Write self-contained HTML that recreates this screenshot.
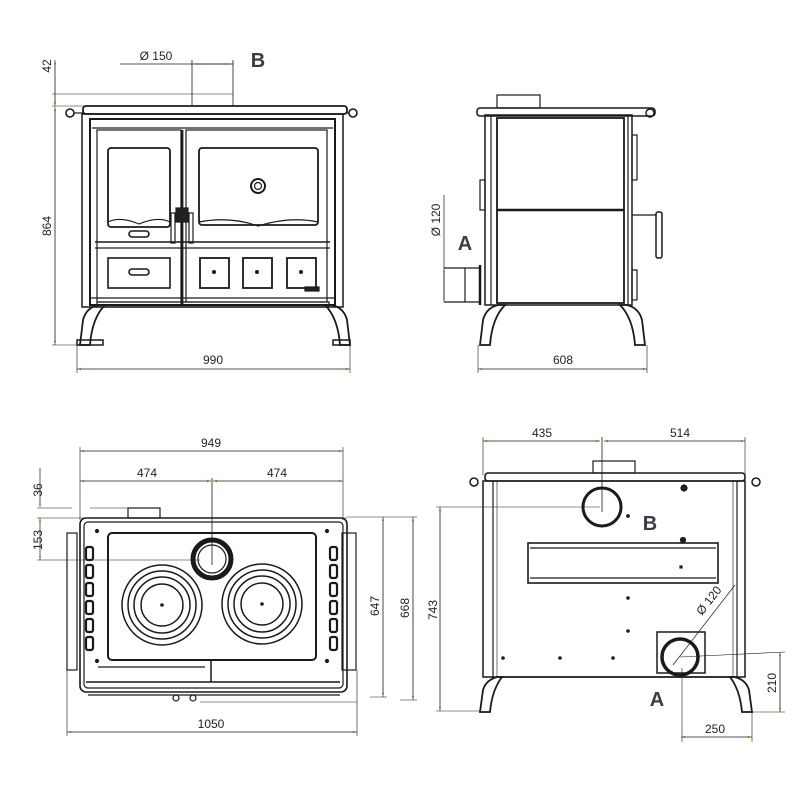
<!DOCTYPE html>
<html><head><meta charset="utf-8"><style>html,body{margin:0;padding:0;background:#fff}svg{display:block}</style></head><body>
<svg width="800" height="800" viewBox="0 0 800 800" xmlns="http://www.w3.org/2000/svg" font-family="Liberation Sans, Arial, sans-serif">
<defs>
<marker id="ar" viewBox="0 0 10 10" refX="10" refY="5" markerWidth="5" markerHeight="5" orient="auto-start-reverse"><path d="M0,2 L10,5 L0,8 z" fill="#8a7a3a"/></marker>
</defs>
<g fill="none" stroke="#1a1a1a" stroke-width="1.2">
<!-- ============ FRONT VIEW ============ -->
<line x1="55" y1="60" x2="55" y2="106" stroke-width="0.8" marker-start="url(#ar)" marker-end="url(#ar)"/>
<line x1="55" y1="107" x2="55" y2="345" stroke-width="0.8" marker-start="url(#ar)" marker-end="url(#ar)"/>
<line x1="52" y1="106" x2="90" y2="106" stroke-width="0.6"/>
<line x1="52" y1="94" x2="233" y2="94" stroke-width="0.6"/>
<line x1="52" y1="345" x2="78" y2="345" stroke-width="0.6"/>
<line x1="120" y1="64" x2="233" y2="64" stroke-width="0.7"/>
<line x1="192" y1="64" x2="233" y2="64" stroke-width="0.7" marker-start="url(#ar)" marker-end="url(#ar)"/>
<line x1="192" y1="60" x2="192" y2="106" stroke-width="0.8"/>
<line x1="233" y1="60" x2="233" y2="106" stroke-width="0.8"/>
<line x1="77" y1="369" x2="350" y2="369" stroke-width="0.8" marker-start="url(#ar)" marker-end="url(#ar)"/>
<line x1="77" y1="345" x2="77" y2="373" stroke-width="0.6"/>
<line x1="350" y1="345" x2="350" y2="373" stroke-width="0.6"/>
<rect x="83" y="106" width="264" height="8" rx="3" stroke-width="1.8"/>
<circle cx="70" cy="113" r="4" stroke-width="1.6"/><line x1="74" y1="113" x2="83" y2="113"/>
<circle cx="353" cy="113" r="4" stroke-width="1.6"/><line x1="347" y1="113" x2="349" y2="113"/>
<rect x="82" y="114" width="261" height="193" stroke-width="1.5"/>
<rect x="90" y="119" width="245" height="186" stroke-width="2"/>
<line x1="92" y1="128" x2="333" y2="128"/>
<rect x="97" y="130" width="84" height="172" stroke-width="1.2"/>
<rect x="186" y="130" width="141" height="172" stroke-width="1.2"/>
<line x1="182" y1="130" x2="182" y2="305" stroke-width="2.8"/>
<rect x="108" y="148" width="62" height="79" rx="3" stroke-width="1.8"/>
<rect x="199" y="148" width="119" height="77" rx="3" stroke-width="1.8"/>
<path d="M108,222 Q120,216 139,224 Q158,216 170,222" stroke-width="1.2"/>
<path d="M199,222 Q230,216 258,226 Q290,216 318,222" stroke-width="1.2"/>
<circle cx="258" cy="186" r="7" stroke-width="2"/><circle cx="258" cy="186" r="3.5"/>
<rect x="176" y="208" width="12" height="14" fill="#222"/>
<rect x="171" y="213" width="4" height="30"/><rect x="189" y="213" width="4" height="30"/>
<rect x="129" y="231" width="20" height="6" rx="3" stroke-width="1.6"/>
<line x1="95" y1="242" x2="330" y2="242" stroke-width="1.5"/>
<line x1="95" y1="248" x2="330" y2="248"/>
<rect x="108" y="258" width="62" height="30" stroke-width="1.6"/>
<rect x="129" y="269" width="20" height="6" rx="3" stroke-width="1.6"/>
<rect x="200" y="258" width="29" height="30" stroke-width="1.8"/><circle cx="214" cy="272" r="1.4" fill="#222"/>
<rect x="243" y="258" width="29" height="30" stroke-width="1.8"/><circle cx="257" cy="272" r="1.4" fill="#222"/>
<rect x="287" y="258" width="29" height="30" stroke-width="1.8"/><circle cx="301" cy="272" r="1.4" fill="#222"/>
<rect x="305" y="287" width="14" height="4" fill="#222"/>
<line x1="90" y1="298" x2="335" y2="298"/>
<rect x="97" y="302" width="232" height="5"/>
<path d="M80,345 L83,320 Q86,308 98,305 L105,305 Q92,318 90,345 Z" stroke-width="1.8"/>
<path d="M350,345 L347,320 Q344,308 332,305 L325,305 Q338,318 340,345 Z" stroke-width="1.8"/>
<rect x="77" y="340" width="26" height="5" stroke-width="1.5"/><rect x="333" y="340" width="17" height="5" stroke-width="1.5"/>
<!-- ============ SIDE VIEW ============ -->
<rect x="497" y="95" width="43" height="13"/>
<rect x="477" y="108" width="178" height="8" rx="3" stroke-width="1.6"/>
<circle cx="650" cy="113" r="4" stroke-width="1.5"/>
<rect x="485" y="115" width="147" height="190" stroke-width="1.5"/>
<rect x="497" y="118" width="127" height="185" stroke-width="1.8"/>
<line x1="497" y1="210" x2="624" y2="210" stroke-width="2.4"/>
<line x1="491" y1="116" x2="491" y2="305"/>
<line x1="628" y1="116" x2="628" y2="305"/>
<rect x="480" y="180" width="5" height="30"/>
<rect x="632" y="135" width="5" height="45"/>
<rect x="656" y="212" width="6" height="46" rx="2" stroke-width="1.5"/>
<line x1="632" y1="215" x2="656" y2="215"/>
<rect x="632" y="270" width="5" height="30"/>
<line x1="444" y1="268" x2="480" y2="268"/>
<line x1="444" y1="302" x2="480" y2="302"/>
<line x1="465" y1="268" x2="465" y2="302"/>
<line x1="480" y1="265" x2="480" y2="305" stroke-width="2.5"/>
<line x1="444" y1="195" x2="444" y2="302" stroke-width="0.7"/>
<line x1="444" y1="268" x2="444" y2="302" stroke-width="0.7" marker-start="url(#ar)" marker-end="url(#ar)"/>
<path d="M480,345 L483,320 Q486,308 498,305 L505,305 Q492,318 490,345 Z" stroke-width="1.8"/>
<path d="M645,345 L642,320 Q639,308 627,305 L620,305 Q633,318 635,345 Z" stroke-width="1.8"/>
<line x1="478" y1="369" x2="647" y2="369" stroke-width="0.8" marker-start="url(#ar)" marker-end="url(#ar)"/>
<line x1="478" y1="345" x2="478" y2="373" stroke-width="0.6"/>
<line x1="647" y1="345" x2="647" y2="373" stroke-width="0.6"/>
<!-- ============ TOP VIEW ============ -->
<line x1="80" y1="451" x2="343" y2="451" stroke-width="0.8" marker-start="url(#ar)" marker-end="url(#ar)"/>
<line x1="80" y1="481" x2="211" y2="481" stroke-width="0.8" marker-start="url(#ar)" marker-end="url(#ar)"/>
<line x1="213" y1="481" x2="343" y2="481" stroke-width="0.8" marker-start="url(#ar)" marker-end="url(#ar)"/>
<line x1="80" y1="447" x2="80" y2="520" stroke-width="0.6"/>
<line x1="343" y1="447" x2="343" y2="520" stroke-width="0.6"/>
<line x1="212" y1="478" x2="212" y2="565" stroke-width="0.8"/>
<line x1="40" y1="468" x2="40" y2="507" stroke-width="0.7" marker-end="url(#ar)"/>
<line x1="40" y1="518" x2="40" y2="560" stroke-width="0.7" marker-start="url(#ar)" marker-end="url(#ar)"/>
<line x1="37" y1="508" x2="72" y2="508" stroke-width="0.6"/><line x1="90" y1="508" x2="150" y2="508" stroke-width="0.6"/>
<line x1="37" y1="518" x2="347" y2="518" stroke-width="0.6"/>
<line x1="37" y1="560" x2="200" y2="560" stroke-width="0.6"/>
<rect x="128" y="508" width="32" height="10"/>
<rect x="80" y="518" width="267" height="174" rx="6" stroke-width="1.6"/>
<rect x="84" y="522" width="259" height="166" rx="4"/>
<rect x="67" y="533" width="10" height="137" stroke-width="1.2"/>
<rect x="342" y="533" width="14" height="137" stroke-width="1.2"/>
<rect x="108" y="533" width="208" height="127" rx="4" stroke-width="2"/>
<circle cx="212" cy="559" r="19" stroke-width="5"/>
<circle cx="212" cy="559" r="14"/>
<g stroke-width="1.5">
<circle cx="162" cy="605" r="40"/><circle cx="162" cy="605" r="34"/><circle cx="162" cy="605" r="28"/><circle cx="162" cy="605" r="21"/>
<circle cx="262" cy="604" r="40"/><circle cx="262" cy="604" r="34"/><circle cx="262" cy="604" r="28"/><circle cx="262" cy="604" r="21"/>
</g>
<circle cx="162" cy="605" r="1.2" fill="#222"/><circle cx="262" cy="604" r="1.2" fill="#222"/>
<g stroke-width="2.2">
<rect x="86" y="547" width="7" height="13" rx="2"/><rect x="86" y="565" width="7" height="13" rx="2"/><rect x="86" y="583" width="7" height="13" rx="2"/><rect x="86" y="601" width="7" height="13" rx="2"/><rect x="86" y="619" width="7" height="13" rx="2"/><rect x="86" y="637" width="7" height="13" rx="2"/>
<rect x="330" y="547" width="7" height="13" rx="2"/><rect x="330" y="565" width="7" height="13" rx="2"/><rect x="330" y="583" width="7" height="13" rx="2"/><rect x="330" y="601" width="7" height="13" rx="2"/><rect x="330" y="619" width="7" height="13" rx="2"/><rect x="330" y="637" width="7" height="13" rx="2"/>
</g>
<circle cx="97" cy="531" r="1.5" fill="#222"/><circle cx="327" cy="531" r="1.5" fill="#222"/>
<circle cx="97" cy="661" r="1.5" fill="#222"/><circle cx="327" cy="661" r="1.5" fill="#222"/>
<line x1="211" y1="660" x2="211" y2="682" stroke-width="1.5"/>
<line x1="98" y1="667" x2="205" y2="667"/>
<line x1="86" y1="682" x2="340" y2="682" stroke-width="1.5"/>
<line x1="88" y1="695" x2="340" y2="695"/>
<circle cx="176" cy="698" r="3"/><circle cx="193" cy="698" r="3"/>
<line x1="200" y1="702" x2="357" y2="702" stroke-width="0.6"/>
<line x1="67" y1="732" x2="357" y2="732" stroke-width="0.8" marker-start="url(#ar)" marker-end="url(#ar)"/>
<line x1="67" y1="670" x2="67" y2="736" stroke-width="0.6"/>
<line x1="357" y1="670" x2="357" y2="736" stroke-width="0.6"/>
<line x1="383" y1="517" x2="383" y2="697" stroke-width="0.8" marker-start="url(#ar)" marker-end="url(#ar)"/>
<line x1="413" y1="517" x2="413" y2="700" stroke-width="0.8" marker-start="url(#ar)" marker-end="url(#ar)"/>
<line x1="347" y1="517" x2="417" y2="517" stroke-width="0.6"/>
<line x1="370" y1="697" x2="387" y2="697" stroke-width="0.6"/>
<line x1="400" y1="700" x2="417" y2="700" stroke-width="0.6"/>
<!-- ============ BACK VIEW ============ -->
<line x1="440" y1="507" x2="440" y2="711" stroke-width="0.8" marker-start="url(#ar)" marker-end="url(#ar)"/>
<line x1="436" y1="507" x2="600" y2="507" stroke-width="0.6"/>
<line x1="436" y1="711" x2="480" y2="711" stroke-width="0.6"/>
<line x1="483" y1="441" x2="600" y2="441" stroke-width="0.8" marker-start="url(#ar)" marker-end="url(#ar)"/>
<line x1="604" y1="441" x2="745" y2="441" stroke-width="0.8" marker-start="url(#ar)" marker-end="url(#ar)"/>
<line x1="483" y1="437" x2="483" y2="475" stroke-width="0.6"/>
<line x1="745" y1="437" x2="745" y2="475" stroke-width="0.6"/>
<line x1="602" y1="437" x2="602" y2="512" stroke-width="0.8"/>
<rect x="593" y="461" width="42" height="12"/>
<rect x="485" y="473" width="260" height="8" rx="3" stroke-width="1.6"/>
<circle cx="474" cy="482" r="4" stroke-width="1.5"/><circle cx="756" cy="482" r="4" stroke-width="1.5"/>
<rect x="483" y="481" width="262" height="196" stroke-width="1.5"/>
<line x1="493" y1="481" x2="493" y2="677"/>
<line x1="737" y1="481" x2="737" y2="677"/>
<line x1="497" y1="481" x2="497" y2="677" stroke-width="0.6"/>
<line x1="733" y1="481" x2="733" y2="677" stroke-width="0.6"/>
<circle cx="602" cy="507" r="19" stroke-width="3"/>
<circle cx="684" cy="488" r="3" fill="#222"/>
<circle cx="628" cy="516" r="1.3" fill="#222"/>
<rect x="528" y="543" width="190" height="40" stroke-width="1.6"/>
<line x1="530" y1="548" x2="716" y2="548"/><line x1="530" y1="578" x2="716" y2="578"/>
<circle cx="683" cy="540" r="2.5" fill="#222"/>
<rect x="680" y="566" width="2" height="2" fill="#222"/>
<circle cx="628" cy="598" r="1.2" fill="#222"/><circle cx="628" cy="631" r="1.2" fill="#222"/>
<circle cx="503" cy="658" r="1.2" fill="#222"/><circle cx="560" cy="658" r="1.2" fill="#222"/><circle cx="613" cy="658" r="1.2" fill="#222"/>
<rect x="657" y="632" width="48" height="41" stroke-width="1.5"/>
<circle cx="680" cy="657" r="18" stroke-width="3.5"/>
<line x1="673" y1="665" x2="735" y2="585" stroke-width="0.7"/>
<line x1="680" y1="657" x2="785" y2="652" stroke-width="0.6"/>
<line x1="682" y1="668" x2="682" y2="742" stroke-width="0.6"/>
<line x1="752" y1="712" x2="752" y2="742" stroke-width="0.6"/>
<line x1="681" y1="737" x2="752" y2="737" stroke-width="0.8" marker-start="url(#ar)" marker-end="url(#ar)"/>
<line x1="780" y1="652" x2="780" y2="712" stroke-width="0.8" marker-start="url(#ar)" marker-end="url(#ar)"/>
<line x1="752" y1="712" x2="785" y2="712" stroke-width="0.6"/>
<line x1="497" y1="677" x2="735" y2="677" stroke-width="1.6"/>
<path d="M480,712 L483,690 Q486,680 497,677 L502,677 Q492,690 490,712 Z" stroke-width="1.8"/>
<path d="M752,712 L749,690 Q746,680 735,677 L730,677 Q740,690 742,712 Z" stroke-width="1.8"/>
</g>
<g fill="#222" font-size="12" text-anchor="middle">
<text x="156" y="60">Ø 150</text>
<text x="213" y="364">990</text>
<text x="563" y="364">608</text>
<text x="211" y="447">949</text>
<text x="147" y="477">474</text>
<text x="277" y="477">474</text>
<text x="211" y="728">1050</text>
<text x="542" y="437">435</text>
<text x="680" y="437">514</text>
<text x="715" y="733">250</text>
<text transform="translate(51,66) rotate(-90)">42</text>
<text transform="translate(51,226) rotate(-90)">864</text>
<text transform="translate(440,220) rotate(-90)">Ø 120</text>
<text transform="translate(42,490) rotate(-90)">36</text>
<text transform="translate(42,540) rotate(-90)">153</text>
<text transform="translate(379,606) rotate(-90)">647</text>
<text transform="translate(409,608) rotate(-90)">668</text>
<text transform="translate(437,610) rotate(-90)">743</text>
<text transform="translate(776,683) rotate(-90)">210</text>
<text transform="translate(712,603) rotate(-52)">Ø 120</text>
</g>
<g fill="#3a3a48" font-size="20" font-weight="bold" text-anchor="middle">
<text x="258" y="67">B</text>
<text x="465" y="250">A</text>
<text x="650" y="530">B</text>
<text x="657" y="706">A</text>
</g>
</svg>
</body></html>
